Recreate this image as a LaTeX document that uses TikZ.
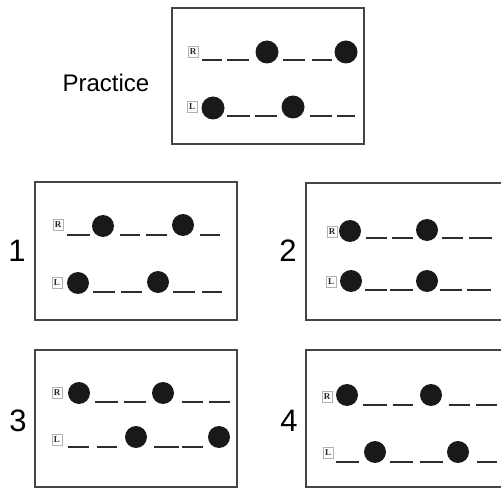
\documentclass[tikz,border=0pt]{standalone}
\usepackage{fontspec}
\setmainfont{Liberation Sans}
\newfontfamily\serifbf{Liberation Serif}
\definecolor{dk}{HTML}{2E2E2E}
\definecolor{fr}{HTML}{444444}
\begin{document}
\begin{tikzpicture}[x=1pt,y=-1pt,
  frame/.style={draw=fr,line width=1.6pt},
  seg/.style={draw=dk,line width=2.3pt},
  dot/.style={fill=black!90},
  side/.style={draw=black!30,line width=0.7pt,fill=white,inner sep=1pt,minimum width=10pt,minimum height=11pt,font=\serifbf\bfseries\fontsize{9}{9}\selectfont,text=black!85},
  numlabel/.style={font=\fontsize{31}{31}\selectfont,text=black}]
\useasboundingbox (0,0) rectangle (501,489);
\clip (0,0) rectangle (501,489);
\fill[white] (0,0) rectangle (501,489);
% ---------- Practice ----------
\node[font=\fontsize{24}{24}\selectfont] (prac) at (106,83) {Practice};
\draw[frame] (172,8) rectangle (364,144);
\node[side] (pR) at (193,52) {R};
\node[side] (pL) at (192,107) {L};
\foreach \a/\b in {202/222,227/249,283/305,312/332} \draw[seg] (\a,60) -- (\b,60);
\foreach \c in {267,346} \fill[dot] (\c,52) circle[radius=11.5pt];
\foreach \a/\b in {227/250,255/277,310/332,337/355} \draw[seg] (\a,116) -- (\b,116);
\fill[dot] (213,108) circle[radius=11.5pt];
\fill[dot] (293,107) circle[radius=11.5pt];
% ---------- 1 ----------
\node[numlabel] (n1) at (17,251) {1};
\draw[frame] (35,182) rectangle (237,320);
\node[side] (aR) at (58,225) {R};
\node[side] (aL) at (57,283) {L};
\foreach \a/\b in {67/90,120/140,146/167,200/220} \draw[seg] (\a,235) -- (\b,235);
\fill[dot] (103,226) circle[radius=11pt];
\fill[dot] (183,225) circle[radius=11pt];
\foreach \a/\b in {93/115,121/142,173/195,202/222} \draw[seg] (\a,292) -- (\b,292);
\fill[dot] (78,283) circle[radius=11pt];
\fill[dot] (158,282) circle[radius=11pt];
% ---------- 2 ----------
\node[numlabel] (n2) at (288,251) {2};
\draw[frame] (306,183) rectangle (512,320);
\node[side] (bR) at (332,232) {R};
\node[side] (bL) at (331,282) {L};
\foreach \a/\b in {366/387,392/413,442/463,469/492} \draw[seg] (\a,238) -- (\b,238);
\fill[dot] (350,231) circle[radius=11pt];
\fill[dot] (427,230) circle[radius=11pt];
\foreach \a/\b in {365/387,390/413,440/462,467/491} \draw[seg] (\a,290) -- (\b,290);
\fill[dot] (351,281) circle[radius=11pt];
\fill[dot] (427,281) circle[radius=11pt];
% ---------- 3 ----------
\node[numlabel] (n3) at (18,421) {3};
\draw[frame] (35,350) rectangle (237,487);
\node[side] (cR) at (57,393) {R};
\node[side] (cL) at (57,440) {L};
\foreach \a/\b in {95/118,124/146,182/203,209/230} \draw[seg] (\a,402) -- (\b,402);
\fill[dot] (79,393) circle[radius=11pt];
\fill[dot] (163,393) circle[radius=11pt];
\foreach \a/\b in {68/89,97/117,154/179,182/203} \draw[seg] (\a,447) -- (\b,447);
\fill[dot] (136,437) circle[radius=11pt];
\fill[dot] (219,437) circle[radius=11pt];
% ---------- 4 ----------
\node[numlabel] (n4) at (289,421) {4};
\draw[frame] (306,350) rectangle (512,487);
\node[side] (dR) at (327,397) {R};
\node[side] (dL) at (328,453) {L};
\foreach \a/\b in {363/387,393/413,449/470,476/497} \draw[seg] (\a,405) -- (\b,405);
\fill[dot] (347,395) circle[radius=11pt];
\fill[dot] (431,395) circle[radius=11pt];
\foreach \a/\b in {336/359,390/413,420/443,477/497} \draw[seg] (\a,462) -- (\b,462);
\fill[dot] (375,452) circle[radius=11pt];
\fill[dot] (458,452) circle[radius=11pt];
\end{tikzpicture}
\end{document}
